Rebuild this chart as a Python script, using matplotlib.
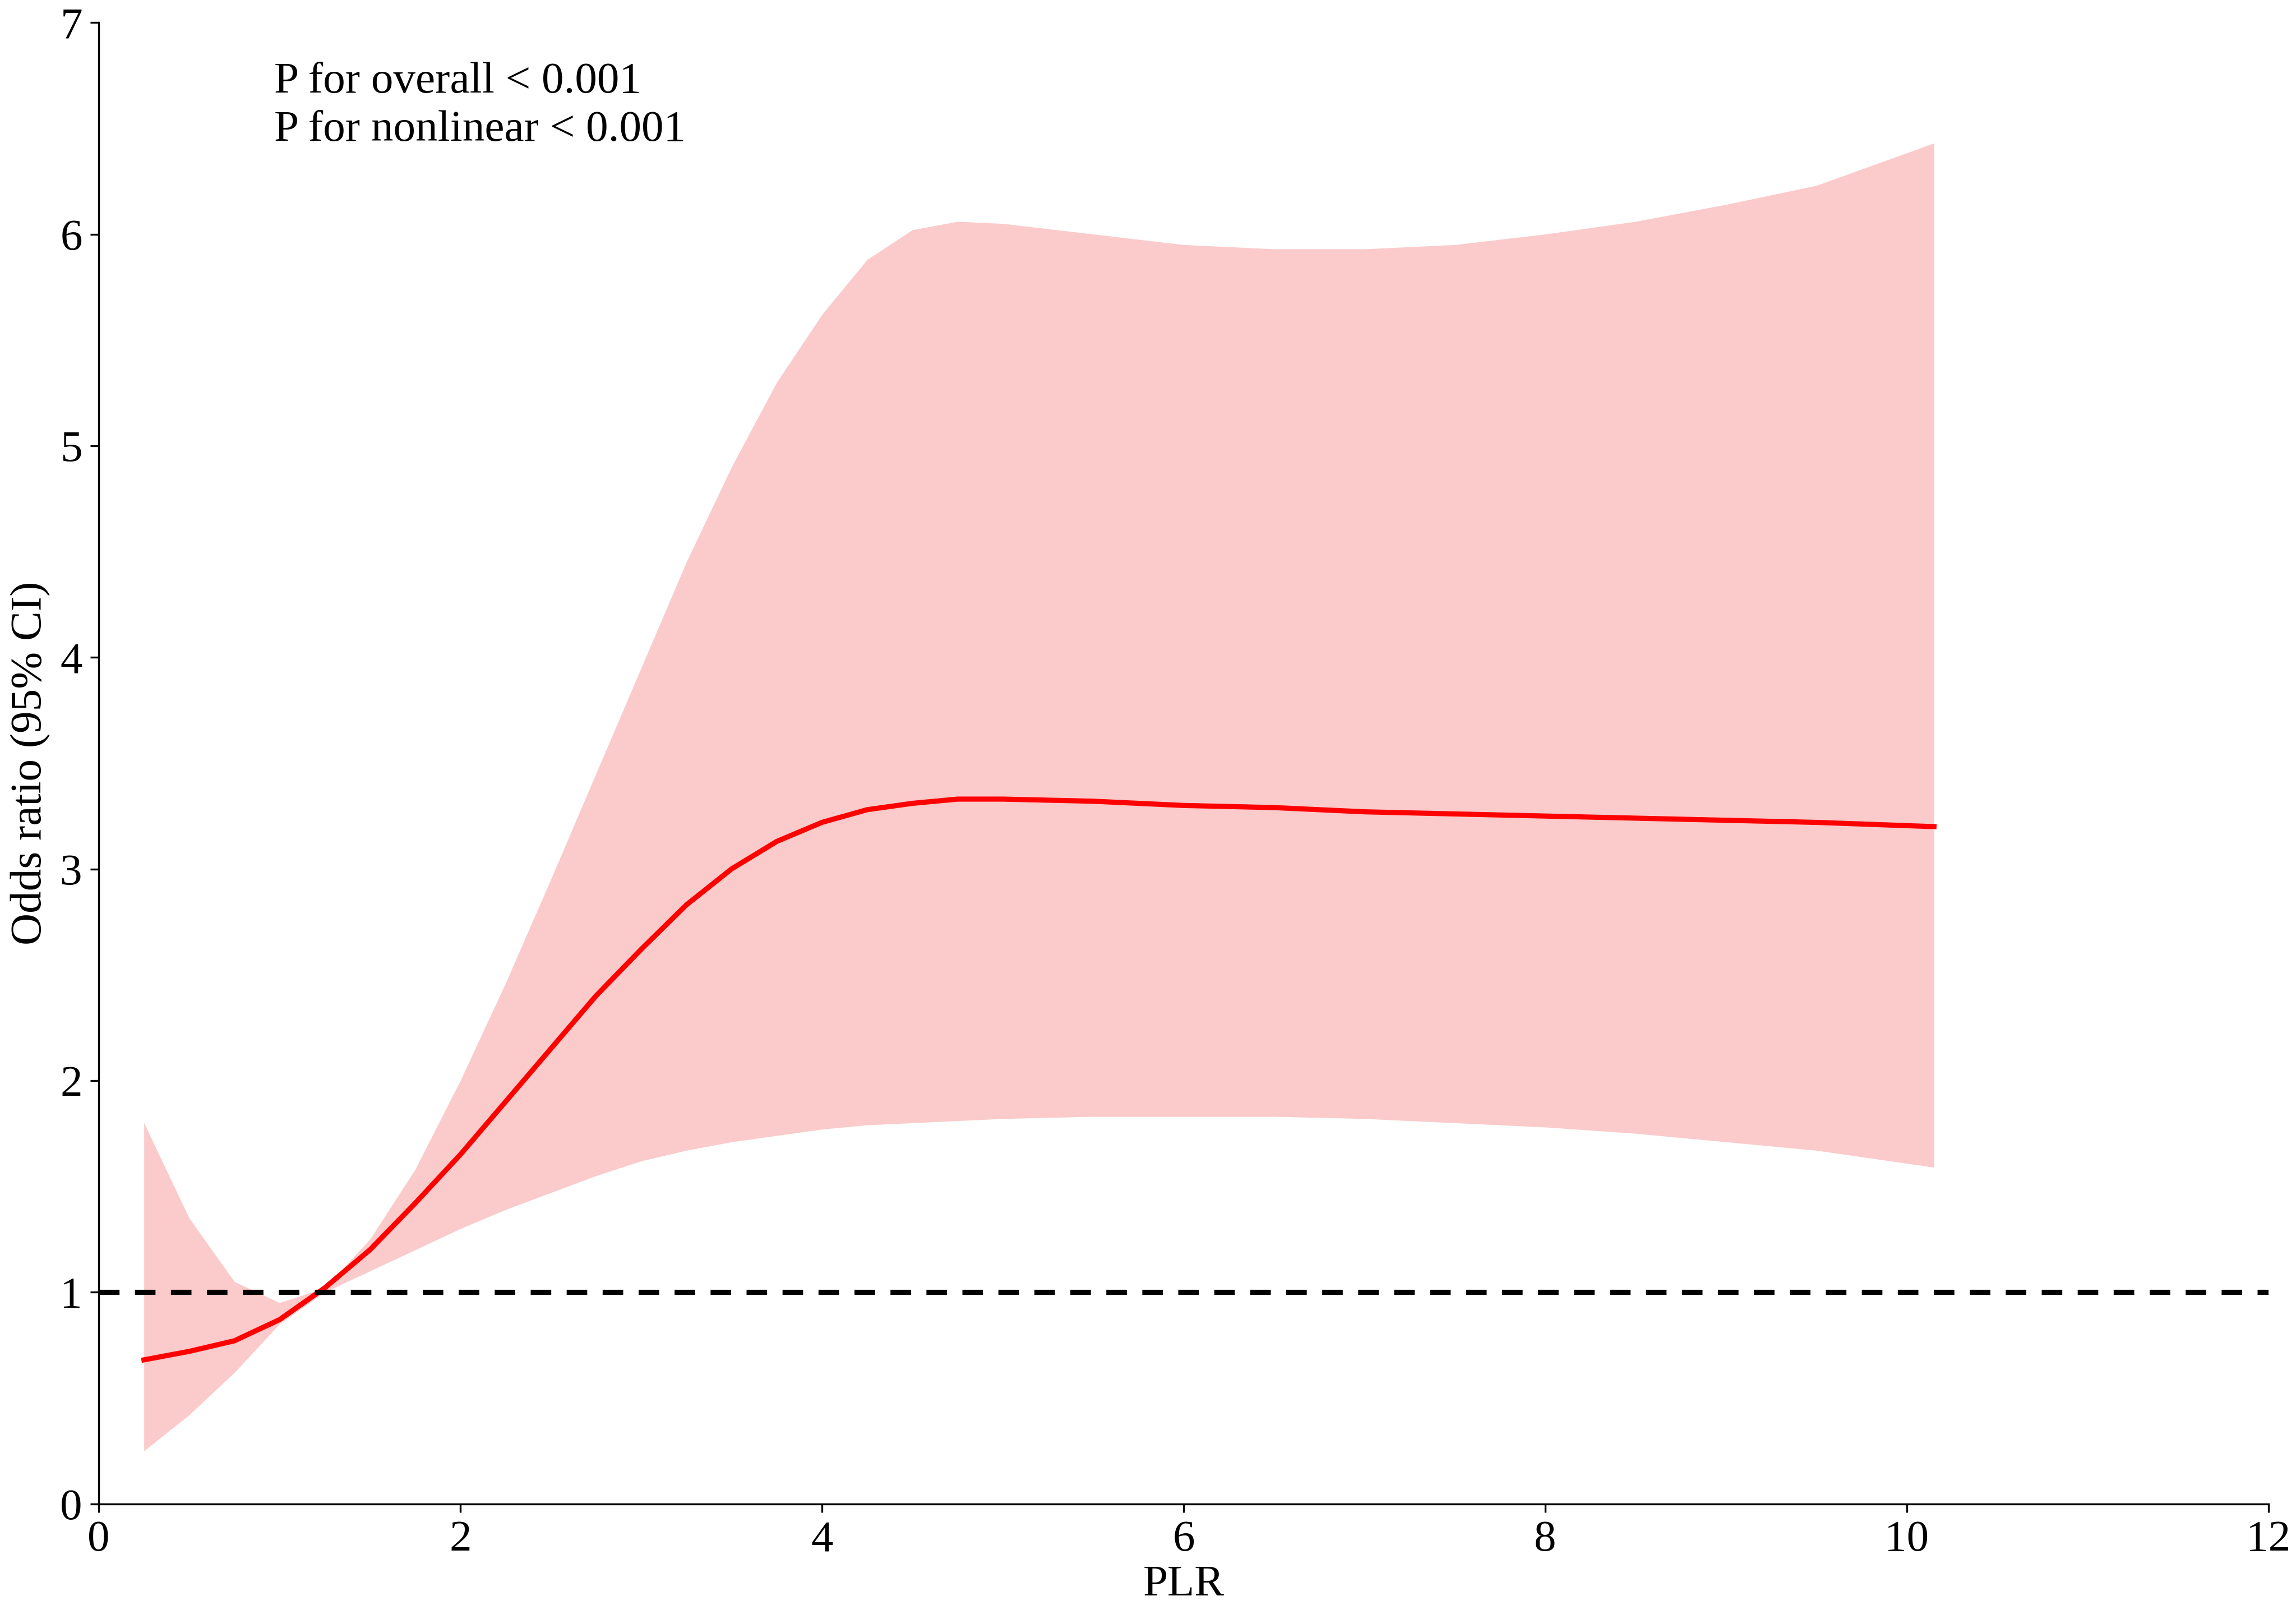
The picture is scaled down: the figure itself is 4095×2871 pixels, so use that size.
import numpy as np
import matplotlib.pyplot as plt

plt.rcParams['font.family'] = 'Liberation Serif'

plr = [0.25, 0.5, 0.75, 1.0, 1.25, 1.5, 1.75, 2.0, 2.25, 2.5, 2.75, 3.0, 3.25, 3.5, 3.75, 4.0, 4.25, 4.5, 4.75, 5.0, 5.5, 6.0, 6.5, 7.0, 7.5, 8.0, 8.5, 9.0, 9.5, 10.15]
odds = [0.68, 0.72, 0.77, 0.87, 1.02, 1.2, 1.42, 1.65, 1.9, 2.15, 2.4, 2.62, 2.83, 3.0, 3.13, 3.22, 3.28, 3.31, 3.33, 3.33, 3.32, 3.30, 3.29, 3.27, 3.26, 3.25, 3.24, 3.23, 3.22, 3.20]
upper = [1.8, 1.35, 1.05, 0.95, 1.02, 1.25, 1.58, 2.0, 2.46, 2.95, 3.45, 3.95, 4.45, 4.9, 5.3, 5.62, 5.88, 6.02, 6.06, 6.05, 6.0, 5.95, 5.93, 5.93, 5.95, 6.0, 6.06, 6.14, 6.23, 6.43]
lower = [0.25, 0.42, 0.62, 0.85, 1.0, 1.1, 1.2, 1.3, 1.39, 1.47, 1.55, 1.62, 1.67, 1.71, 1.74, 1.77, 1.79, 1.8, 1.81, 1.82, 1.83, 1.83, 1.83, 1.82, 1.8, 1.78, 1.75, 1.71, 1.67, 1.59]

fig, ax = plt.subplots(figsize=(13.65, 9.57), dpi=300)
fig.subplots_adjust(left=0.043, right=0.988, bottom=0.066, top=0.986)

ax.fill_between(plr, lower, upper, color='#fbcaca', linewidth=0)
ax.plot(plr, odds, color='#ff0000', lw=2.2)
ax.axhline(1, color='black', ls=(0, (4, 3)), lw=2.2)

ax.set_xlim(0, 12)
ax.set_ylim(0, 7)
ax.set_xticks(range(0, 13, 2))
ax.set_yticks(range(0, 8))
ax.tick_params(labelsize=19)
ax.set_xlabel('PLR', fontsize=19, labelpad=2)
ax.set_ylabel('Odds ratio (95% CI)', fontsize=19, labelpad=4)
ax.spines['top'].set_visible(False)
ax.spines['right'].set_visible(False)

ax.text(0.97, 6.72, 'P for overall < 0.001', fontsize=19, va='center')
ax.text(0.97, 6.49, 'P for nonlinear < 0.001', fontsize=19, va='center')

fig.savefig('out.png', dpi=300)
